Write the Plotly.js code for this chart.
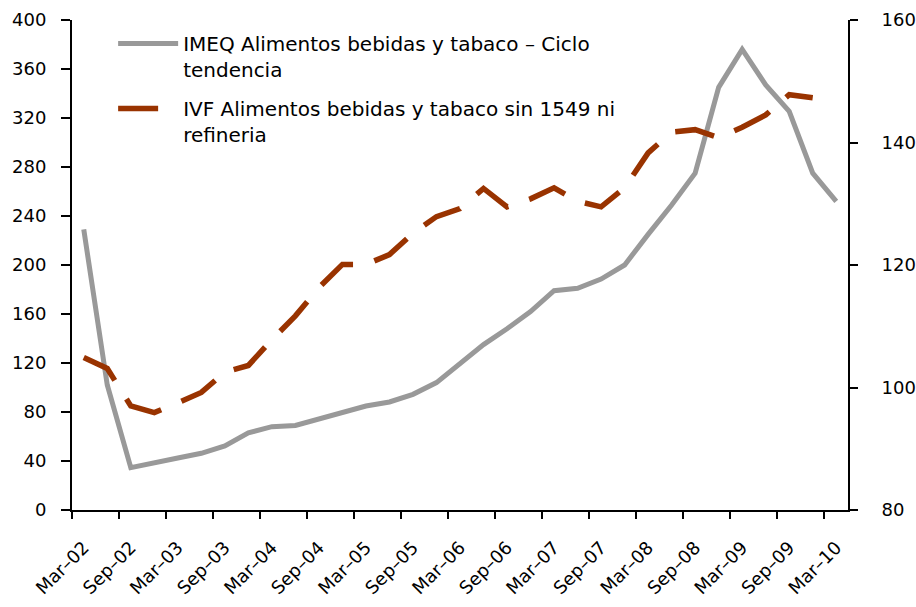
<!DOCTYPE html>
<html>
<head>
<meta charset="utf-8">
<script src="https://cdn.plot.ly/plotly-3.0.1.min.js"></script>
<style>
  html, body { margin: 0; padding: 0; background: #fff; }
  #chart { width: 916px; height: 607px; }
</style>
</head>
<body>
<div id="chart"></div>
<script>
// quarterly categories, Mar-02 .. Mar-10
const quarters = [
    'Mar–02', 'Jun–02', 'Sep–02', 'Dec–02',
    'Mar–03', 'Jun–03', 'Sep–03', 'Dec–03',
    'Mar–04', 'Jun–04', 'Sep–04', 'Dec–04',
    'Mar–05', 'Jun–05', 'Sep–05', 'Dec–05',
    'Mar–06', 'Jun–06', 'Sep–06', 'Dec–06',
    'Mar–07', 'Jun–07', 'Sep–07', 'Dec–07',
    'Mar–08', 'Jun–08', 'Sep–08', 'Dec–08',
    'Mar–09', 'Jun–09', 'Sep–09', 'Dec–09',
    'Mar–10'
];

// IMEQ (left axis)
const imeq = [
    229, 102, 34.6, 39, 42.5, 46.3, 52.3, 63,
    68, 69, 74.5, 79.7, 84.9, 88.2, 94.4, 104,
    119, 135, 148, 162, 179, 181, 188.5, 200,
    225, 249, 275, 345, 376, 347, 325.5, 275,
    252
];

// IVF (right axis), series ends Dec-09
const ivf = [
    104.9, 103.1, 97.0, 95.9, 97.5, 99.2, 102.5, 103.6,
    107.8, 111.7, 116.3, 120.1, 120.1, 121.7, 125.2, 127.9,
    129.2, 132.5, 129.5, 130.8, 132.6, 130.4, 129.5, 132.6,
    138.3, 141.7, 142.1, 140.8, 142.5, 144.5, 147.8, 147.3
];

const leftTicks = [0, 400, 40];
const rightTicks = [80, 160, 20];

const names = [
    'IMEQ Alimentos bebidas y tabaco – Ciclo<br>tendencia',
    'IVF Alimentos bebidas y tabaco sin 1549 ni<br>refineria'
];

const FONT = '"DejaVu Sans", Verdana, sans-serif';

const traces = [
    {
        x: quarters.slice(0, imeq.length),
        y: imeq,
        name: names[0],
        type: 'scatter',
        mode: 'lines',
        line: { color: '#999999', width: 5 },
        yaxis: 'y',
        legendgroup: 'a'
    },
    {
        x: quarters.slice(0, ivf.length),
        y: ivf,
        name: names[1],
        type: 'scatter',
        mode: 'lines',
        line: { color: '#993300', width: 5.5, dash: '40px,22px' },
        yaxis: 'y2',
        legendgroup: 'b'
    }
];

const plainAxis = { showgrid: false, zeroline: false, fixedrange: true };

const layout = {
    width: 916,
    height: 607,
    margin: { l: 72, r: 68, t: 20, b: 97 },
    paper_bgcolor: '#ffffff',
    plot_bgcolor: '#ffffff',
    font: { family: FONT, size: 18, color: '#000' },
    showlegend: true,
    legend: {
        x: 0.053, y: 0.992, xanchor: 'left', yanchor: 'top',
        font: { family: FONT, size: 20, color: '#000' },
        bgcolor: 'rgba(0,0,0,0)',
        valign: 'top',
        tracegroupgap: 10,
        itemwidth: 60
    },
    xaxis: {
        ...plainAxis,
        type: 'category',
        categoryorder: 'array',
        categoryarray: quarters,
        range: [-0.5, quarters.length - 0.5],
        tickmode: 'linear', tick0: 0, dtick: 2,
        tickson: 'boundaries',
        ticks: 'outside', ticklen: 7, tickwidth: 2, tickcolor: '#000',
        tickangle: -45,
        ticklabelstandoff: 18,
        showline: true, linecolor: '#000', linewidth: 2,
        tickfont: { family: FONT, size: 18 }
    },
    yaxis: {
        ...plainAxis,
        range: [leftTicks[0], leftTicks[1]],
        tickmode: 'linear', tick0: leftTicks[0], dtick: leftTicks[2],
        ticks: 'outside', ticklen: 9, tickwidth: 2, tickcolor: '#000',
        showline: true, linecolor: '#000', linewidth: 2,
        ticklabelstandoff: 11,
        tickfont: { family: FONT, size: 18 }
    },
    yaxis2: {
        ...plainAxis,
        overlaying: 'y', side: 'right', anchor: 'x',
        range: [rightTicks[0], rightTicks[1]],
        tickmode: 'linear', tick0: rightTicks[0], dtick: rightTicks[2],
        ticks: 'outside', ticklen: 8, tickwidth: 2, tickcolor: '#000',
        showline: true, linecolor: '#000', linewidth: 2,
        ticklabelstandoff: 20,
        tickfont: { family: FONT, size: 18 }
    },
    // inner halves of the crossing tick marks
    yaxis3: {
        ...plainAxis,
        overlaying: 'y', side: 'left', anchor: 'x',
        range: [leftTicks[0], leftTicks[1]],
        tickmode: 'linear', tick0: leftTicks[0], dtick: leftTicks[2],
        ticks: 'inside', ticklen: 8, tickwidth: 2, tickcolor: '#000',
        showticklabels: false, showline: false
    },
    yaxis4: {
        ...plainAxis,
        overlaying: 'y', side: 'right', anchor: 'x',
        range: [rightTicks[0], rightTicks[1]],
        tickmode: 'linear', tick0: rightTicks[0], dtick: rightTicks[2],
        ticks: 'inside', ticklen: 7, tickwidth: 2, tickcolor: '#000',
        showticklabels: false, showline: false
    }
};

Plotly.newPlot('chart', traces, layout, { displayModeBar: false, staticPlot: true });
</script>
</body>
</html>
